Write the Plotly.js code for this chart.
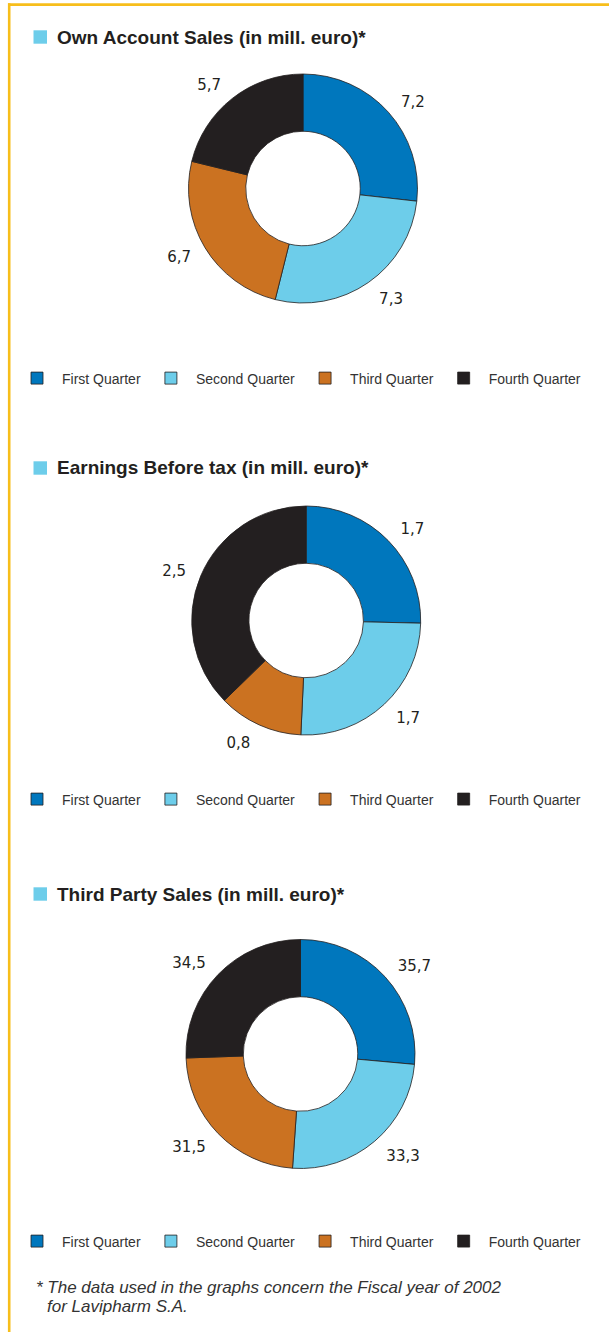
<!DOCTYPE html>
<html>
<head>
<meta charset="utf-8">
<script src="https://cdn.plot.ly/plotly-3.0.1.min.js"></script>
<style>
  html, body { margin: 0; padding: 0; background: #ffffff; }
  #chart { width: 609px; height: 1332px; }
</style>
</head>
<body>
<div id="chart"></div>
<script>
// ---- data ----
const quarters = ["First Quarter", "Second Quarter", "Third Quarter", "Fourth Quarter"];
const ownAccountSales = [7.2, 7.3, 6.7, 5.7];
const earningsBeforeTax = [1.7, 1.7, 0.8, 2.5];
const thirdPartySales = [35.7, 33.3, 31.5, 34.5];
const chartTitles = [
  "Own Account Sales (in mill. euro)*",
  "Earnings Before tax (in mill. euro)*",
  "Third Party Sales (in mill. euro)*"
];
const footnoteLines = [
  "* The data used in the graphs concern the Fiscal year of 2002",
  "for Lavipharm S.A."
];

// ---- style ----
const W = 609, H = 1332;
const colors = ["#0077BD", "#6DCDEA", "#CB7221", "#231F20"];
const FONT = "'Liberation Sans', Arial, sans-serif";
const LABELFONT = "'DejaVu Sans', 'Liberation Sans', sans-serif";
const textColor = "#231F20";
const R = 114.5;          // donut outer radius (px)
const RL = R + 11;        // radius of the (invisible) ring used to place value labels

// pixel centers of each donut
const centers = [[303, 188.5], [306.2, 620.5], [300.5, 1054]];
const titleY = [37, 468, 894];
const legendY = [378.5, 799.5, 1241.5];

function px2x(x) { return x / W; }
function px2y(y) { return 1 - y / H; }
function dom(cx, cy, r) {
  return { x: [px2x(cx - r), px2x(cx + r)], y: [px2y(cy + r), px2y(cy - r)] };
}

const datasets = [ownAccountSales, earningsBeforeTax, thirdPartySales];
const legendNames = ["legend", "legend2", "legend3"];

const traces = [];
datasets.forEach((vals, i) => {
  const [cx, cy] = centers[i];
  // visible donut
  traces.push({
    type: "pie",
    labels: quarters,
    values: vals,
    sort: false,
    direction: "clockwise",
    rotation: 0,
    hole: 0.5,
    marker: { colors: colors, line: { color: "#231F20", width: 0.8 } },
    textinfo: "none",
    domain: dom(cx, cy, R),
    legend: legendNames[i],
    legendgroup: "g" + i,
    showlegend: true,
    hoverinfo: "label+value"
  });
  // transparent ring carrying the value labels a bit further out
  traces.push({
    type: "pie",
    labels: quarters,
    values: vals,
    sort: false,
    direction: "clockwise",
    rotation: 0,
    hole: R / RL,
    marker: { colors: ["rgba(0,0,0,0)", "rgba(0,0,0,0)", "rgba(0,0,0,0)", "rgba(0,0,0,0)"],
              line: { width: 0 } },
    textinfo: "value",
    texttemplate: "%{value:.1f}",
    textposition: "outside",
    outsidetextfont: { family: LABELFONT, size: 15, color: textColor },
    domain: dom(cx, cy + 1, RL),
    showlegend: false,
    legendgroup: "lbl" + i,
    hoverinfo: "skip"
  });
});

const legendBase = {
  orientation: "h",
  xanchor: "left",
  yanchor: "middle",
  x: px2x(12),
  font: { family: FONT, size: 14, color: "#333333" },
  bgcolor: "rgba(0,0,0,0)",
  itemwidth: 40,
  traceorder: "normal"
};

const layout = {
  width: W,
  height: H,
  margin: { l: 0, r: 0, t: 0, b: 0 },
  paper_bgcolor: "#ffffff",
  separators: ",.",
  showlegend: true,
  legend: Object.assign({}, legendBase, { y: px2y(legendY[0]) }),
  legend2: Object.assign({}, legendBase, { y: px2y(legendY[1]) }),
  legend3: Object.assign({}, legendBase, { y: px2y(legendY[2]) }),
  shapes: [
    // frame lines
    { type: "line", xref: "paper", yref: "paper", x0: px2x(8), x1: 1, y0: px2y(4.6), y1: px2y(4.6),
      line: { color: "#F7BE1B", width: 2.8 } },
    { type: "line", xref: "paper", yref: "paper", x0: px2x(9.2), x1: px2x(9.2), y0: px2y(3.2), y1: 0,
      line: { color: "#F7BE1B", width: 2.6 } }
  ].concat(titleY.map(y => ({
    type: "rect", xref: "paper", yref: "paper",
    x0: px2x(33.5), x1: px2x(47), y0: px2y(y + 6.7), y1: px2y(y - 6.7),
    fillcolor: "#6DCDEA", line: { width: 0 }
  }))),
  annotations: chartTitles.map((t, i) => ({
    text: "<b>" + t + "</b>",
    xref: "paper", yref: "paper",
    x: px2x(55), y: px2y(titleY[i]),
    xanchor: "left", yanchor: "middle",
    showarrow: false,
    font: { family: FONT, size: 19, color: textColor }
  })).concat([
    {
      text: "<i>" + footnoteLines[0] + "</i>",
      xref: "paper", yref: "paper", x: px2x(34), y: px2y(1287),
      xanchor: "left", yanchor: "middle", showarrow: false,
      font: { family: FONT, size: 17, color: "#333333" }
    },
    {
      text: "<i>" + footnoteLines[1] + "</i>",
      xref: "paper", yref: "paper", x: px2x(45), y: px2y(1306),
      xanchor: "left", yanchor: "middle", showarrow: false,
      font: { family: FONT, size: 17, color: "#333333" }
    }
  ])
};

Plotly.newPlot("chart", traces, layout, { displayModeBar: false, staticPlot: true });
</script>
</body>
</html>
